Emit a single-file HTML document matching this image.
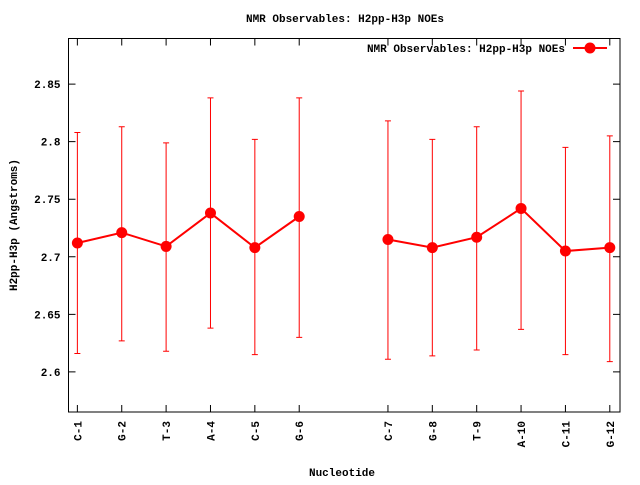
<!DOCTYPE html>
<html><head><meta charset="utf-8"><style>
body{margin:0;background:#fff}
text{font-family:"Liberation Mono",monospace;font-weight:bold;font-size:11px;fill:#000}
</style></head><body>
<svg id="chart" width="640" height="480" xmlns="http://www.w3.org/2000/svg"></svg>
<script>
const categories=["C-1","G-2","T-3","A-4","C-5","G-6","C-7","G-8","T-9","A-10","C-11","G-12"];
const positions=[0,1,2,3,4,5,7,8,9,10,11,12];
const values=[2.712,2.721,2.709,2.738,2.708,2.735,2.715,2.708,2.717,2.742,2.705,2.708];
const errHigh=[2.808,2.813,2.799,2.838,2.802,2.838,2.818,2.802,2.813,2.844,2.795,2.805];
const errLow=[2.616,2.627,2.618,2.638,2.615,2.630,2.611,2.614,2.619,2.637,2.615,2.609];
const yTicks=[2.6,2.65,2.7,2.75,2.8,2.85];
const yTickLabels=["2.6","2.65","2.7","2.75","2.8","2.85"];
const L=68.5,R=620,T=38.5,B=412;
const xmin=-0.2,xmax=12.23,ymin=2.5652,ymax=2.8896;
const sx=v=>L+(v-xmin)/(xmax-xmin)*(R-L);
const sy=v=>B-(v-ymin)/(ymax-ymin)*(B-T);
const svg=document.getElementById('chart');
const NS="http://www.w3.org/2000/svg";
function mk(tag,attrs,parent){const e=document.createElementNS(NS,tag);for(const k in attrs)e.setAttribute(k,attrs[k]);(parent||svg).appendChild(e);return e;}
let e;
e=mk('text',{x:345,y:22,'text-anchor':'middle'});e.textContent="NMR Observables: H2pp-H3p NOEs";


e=mk('rect',{x:L,y:T,width:R-L,height:B-T,fill:'none',stroke:'#000','stroke-width':1});


yTicks.forEach((t,i)=>{const y=sy(t);
 e=mk('path',{d:`M${L} ${y}h7M${R} ${y}h-7`,stroke:'#000'});
 
 
 e=mk('text',{x:L-8,y:y+4,'text-anchor':'end'});e.textContent=yTickLabels[i];
 
 
});
categories.forEach((c,i)=>{const x=sx(positions[i]);
 e=mk('path',{d:`M${x} ${B}v-7M${x} ${T}v7`,stroke:'#000'});
 
 
 e=mk('text',{x:0,y:0,'text-anchor':'end',transform:`translate(${x+4},${B+9}) rotate(-90)`});e.textContent=c;
 
 
});
e=mk('text',{x:0,y:0,'text-anchor':'middle',transform:'translate(17,225) rotate(-90)'});e.textContent="H2pp-H3p (Angstroms)";


e=mk('text',{x:342,y:476,'text-anchor':'middle'});e.textContent="Nucleotide";


// error bars
categories.forEach((c,i)=>{const x=sx(positions[i]),y1=sy(errHigh[i]),y2=sy(errLow[i]);
 e=mk('path',{d:`M${x} ${y1}V${y2}M${x-3} ${y1}h6M${x-3} ${y2}h6`,stroke:'#f00','stroke-width':1,fill:'none'});
 
 
});
// lines (broken at gap)
let segs=[[]];
positions.forEach((p,i)=>{if(i>0&&p-positions[i-1]>1)segs.push([]);segs[segs.length-1].push(`${sx(p)},${sy(values[i])}`);});
segs.forEach(s=>{e=mk('polyline',{points:s.join(' '),fill:'none',stroke:'#f00','stroke-width':2});
 
 });
values.forEach((v,i)=>{e=mk('circle',{cx:sx(positions[i]),cy:sy(v),r:5.5,fill:'#f00'});
 
 });
// legend
e=mk('text',{x:565,y:52,'text-anchor':'end'});e.textContent="NMR Observables: H2pp-H3p NOEs";


e=mk('path',{d:'M573 48h34',stroke:'#f00','stroke-width':2});


e=mk('circle',{cx:590,cy:48,r:5.5,fill:'#f00'});


</script>
</body></html>
